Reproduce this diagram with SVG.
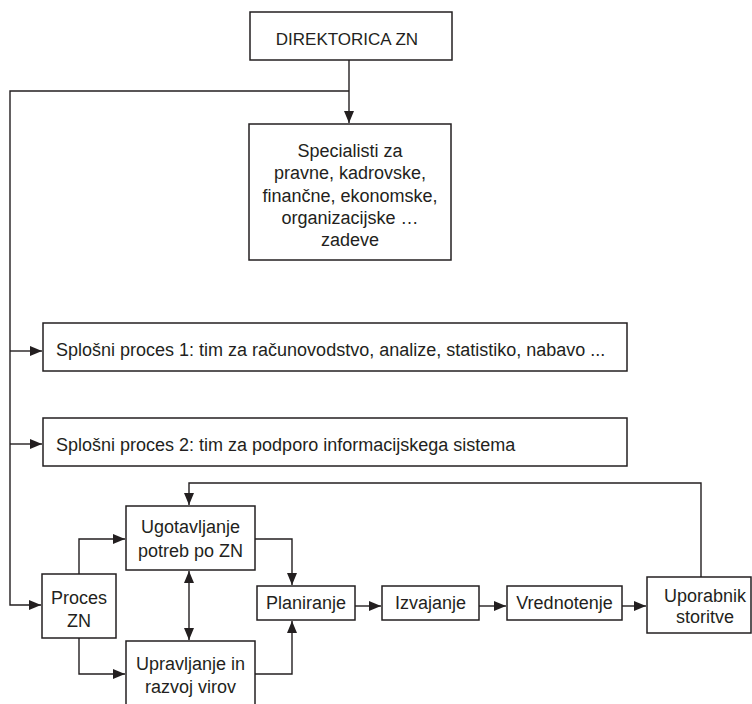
<svg xmlns="http://www.w3.org/2000/svg" width="752" height="704" viewBox="0 0 752 704">
<defs>
<style>
.box{fill:#fff;stroke:#231f20;stroke-width:1.5}
.ln{fill:none;stroke:#231f20;stroke-width:1.4}
text{font-family:"Liberation Sans",Arial,Helvetica,sans-serif;font-size:18px;fill:#231f20}
.c{text-anchor:middle}
</style>
<marker id="ah" markerUnits="userSpaceOnUse" markerWidth="13" markerHeight="10" refX="12" refY="5" orient="auto-start-reverse">
<path d="M0,0 L12,5 L0,10 z" fill="#231f20"/>
</marker>
</defs>
<rect width="752" height="704" fill="#fff"/>
<g id="connectors">
<path class="ln" d="M349,60 V123" marker-end="url(#ah)"/>
<path class="ln" d="M349,91 H10 V605 H41" marker-end="url(#ah)"/>
<path class="ln" d="M10,351 H42" marker-end="url(#ah)"/>
<path class="ln" d="M10,444 H42" marker-end="url(#ah)"/>
<path class="ln" d="M79,574 V539 H125" marker-end="url(#ah)"/>
<path class="ln" d="M79,638 V674 H125" marker-end="url(#ah)"/>
<path class="ln" d="M189,571 V640" marker-start="url(#ah)" marker-end="url(#ah)"/>
<path class="ln" d="M255,539 H292 V585" marker-end="url(#ah)"/>
<path class="ln" d="M255,674 H292 V621" marker-end="url(#ah)"/>
<path class="ln" d="M355,606 H381" marker-end="url(#ah)"/>
<path class="ln" d="M479,606 H506" marker-end="url(#ah)"/>
<path class="ln" d="M622,606 H646" marker-end="url(#ah)"/>
<path class="ln" d="M701,577 V483 H189 V505" marker-end="url(#ah)"/>
</g>
<g id="direktorica">
<rect class="box" x="250" y="12" width="202" height="48"/>
<text class="c" x="347" y="45" style="font-size:17px">DIREKTORICA ZN</text>
</g>
<g id="specialisti">
<rect class="box" x="249" y="124" width="202" height="136"/>
<text class="c" x="350" y="157">Specialisti za</text>
<text class="c" x="350" y="179.3">pravne, kadrovske,</text>
<text class="c" x="350" y="201.6">finančne, ekonomske,</text>
<text class="c" x="350" y="223.9">organizacijske …</text>
<text class="c" x="350" y="246.2">zadeve</text>
</g>
<g id="proces1">
<rect class="box" x="43" y="323" width="584" height="48"/>
<text x="56" y="355.5">Splošni proces 1: tim za računovodstvo, analize, statistiko, nabavo ...</text>
</g>
<g id="proces2">
<rect class="box" x="43" y="418" width="584" height="48"/>
<text x="56" y="450.5">Splošni proces 2: tim za podporo informacijskega sistema</text>
</g>
<g id="ugotavljanje">
<rect class="box" x="126" y="506" width="129" height="64"/>
<text class="c" x="190.5" y="533.3">Ugotavljanje</text>
<text class="c" x="190.5" y="556.7">potreb po ZN</text>
</g>
<g id="procesZN">
<rect class="box" x="42" y="574" width="74" height="64"/>
<text class="c" x="79" y="604">Proces</text>
<text class="c" x="79" y="626.7">ZN</text>
</g>
<g id="upravljanje">
<rect class="box" x="126" y="641" width="129" height="65"/>
<text class="c" x="190.5" y="670">Upravljanje in</text>
<text class="c" x="190.5" y="693">razvoj virov</text>
</g>
<g id="planiranje">
<rect class="box" x="257" y="586" width="98" height="34"/>
<text class="c" x="306" y="608.5">Planiranje</text>
</g>
<g id="izvajanje">
<rect class="box" x="382" y="586" width="97" height="34"/>
<text class="c" x="430.5" y="609">Izvajanje</text>
</g>
<g id="vrednotenje">
<rect class="box" x="507" y="586" width="115" height="34"/>
<text class="c" x="564.5" y="609">Vrednotenje</text>
</g>
<g id="uporabnik">
<rect class="box" x="647" y="577" width="104" height="56"/>
<text class="c" x="705" y="601.7">Uporabnik</text>
<text class="c" x="705" y="623.3">storitve</text>
</g>
</svg>
